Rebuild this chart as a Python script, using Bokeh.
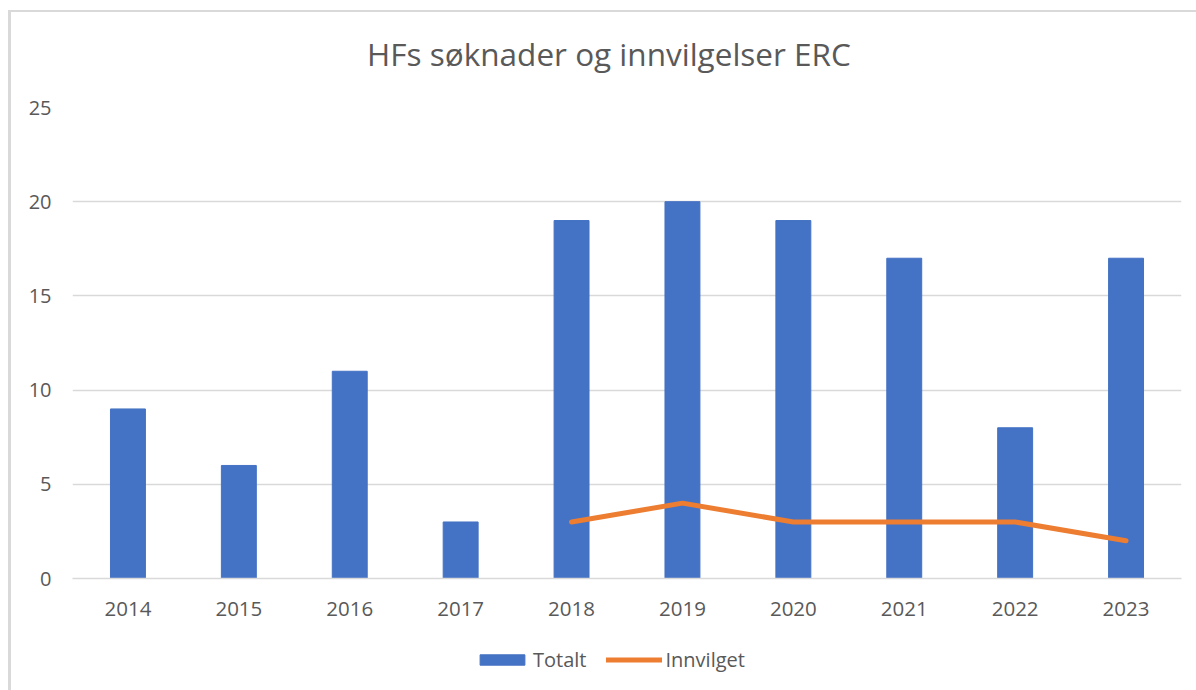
from bokeh.plotting import figure
from bokeh.models import Legend, LegendItem, FactorRange, FixedTicker, Div
from bokeh.layouts import column
from bokeh.embed import file_html
from bokeh.resources import INLINE

years = ["2014", "2015", "2016", "2017", "2018", "2019", "2020", "2021", "2022", "2023"]
totalt = [9, 6, 11, 3, 19, 20, 19, 17, 8, 17]
innv_years = ["2018", "2019", "2020", "2021", "2022", "2023"]
innvilget = [3, 4, 3, 3, 3, 2]
y_ticks = [0, 5, 10, 15, 20, 25]
title_text = "HFs søknader og innvilgelser ERC"

FONT = "Open Sans"
GREY = "#595959"
BLUE = "#4472C4"
ORANGE = "#ED7D31"
W = 1185

title = Div(text=title_text, width=W, height=83, margin=0,
            styles={"font-family": FONT, "font-size": "31.5px", "color": GREY,
                    "text-align": "center", "line-height": "83px", "overflow": "hidden",
                    "white-space": "nowrap", "text-indent": "11px"})

p = figure(x_range=FactorRange(*years), y_range=(0, 25), width=W, height=537,
           output_backend="svg", toolbar_location=None,
           min_border_left=61, min_border_right=15, min_border_top=12, min_border_bottom=54)
p.outline_line_color = None
p.x_range.range_padding = 0

bars = p.vbar(x=years, top=totalt, width=0.315, color=BLUE)
line = p.line(x=innv_years, y=innvilget, line_color=ORANGE, line_width=5, line_cap="round", line_join="round")

p.yaxis.ticker = FixedTicker(ticks=y_ticks)
p.yaxis.axis_line_color = None
p.yaxis.major_tick_line_color = None
p.yaxis.minor_tick_line_color = None
p.yaxis.major_label_standoff = 15
p.yaxis.major_label_text_font = FONT
p.yaxis.major_label_text_font_size = "20px"
p.yaxis.major_label_text_color = GREY

p.xaxis.axis_line_color = "#d9d9d9"
p.xaxis.axis_line_width = 1.5
p.xaxis.major_tick_line_color = None
p.xaxis.minor_tick_line_color = None
p.xaxis.major_label_standoff = 17
p.xaxis.major_label_text_font = FONT
p.xaxis.major_label_text_font_size = "20.5px"
p.xaxis.major_label_text_color = GREY

p.xgrid.grid_line_color = None
p.ygrid.grid_line_color = "#d9d9d9"
p.ygrid.grid_line_width = 1.5

# legend strip below the chart (hidden copies of the series; only legend glyphs show)
p2 = figure(width=W, height=58, x_range=FactorRange(*years), y_range=(0, 25),
            output_backend="svg", toolbar_location=None, min_border=0)
p2.axis.visible = False
p2.grid.grid_line_color = None
p2.outline_line_color = None
lb = p2.vbar(x=years, top=totalt, width=0.315, color=BLUE, visible=False)
ll = p2.line(x=innv_years, y=innvilget, line_color=ORANGE, line_width=5, line_cap="round", visible=False)
legend = Legend(items=[LegendItem(label="Totalt", renderers=[lb]),
                       LegendItem(label="Innvilget", renderers=[ll])],
                orientation="horizontal", location=(402, 17),
                label_text_font=FONT, label_text_font_size="20px", label_text_color=GREY,
                glyph_width=56, glyph_height=13, spacing=20, border_line_color=None,
                background_fill_alpha=0, label_standoff=3, padding=0, margin=0,
                inactive_fill_alpha=0)
p2.add_layout(legend, "center")

lay = column(title, p, p2, spacing=0,
             styles={"border-left": "3px solid #d9d9d9", "border-top": "2px solid #d9d9d9",
                     "margin-top": "10px", "margin-left": "8px"})

open("out.html", "w").write(file_html(lay, INLINE))
